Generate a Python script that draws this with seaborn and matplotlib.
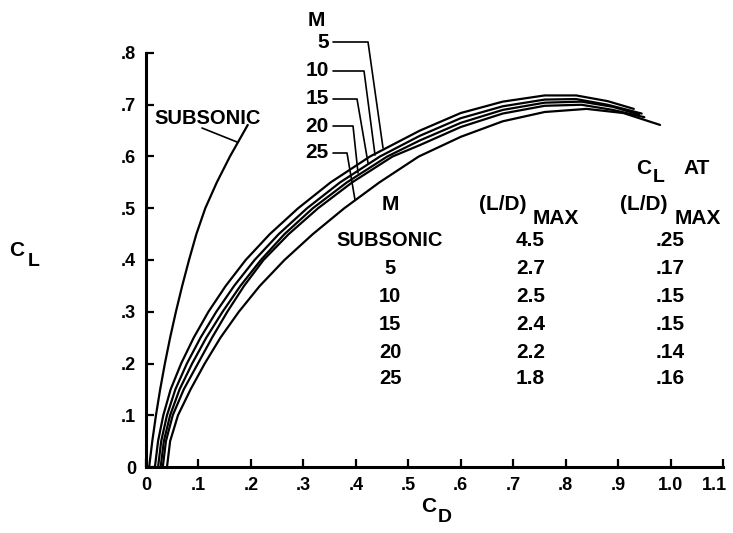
import matplotlib
matplotlib.use("Agg")
import matplotlib.pyplot as plt
from matplotlib.transforms import ScaledTranslation
import pandas as pd
import seaborn as sns

# ---------------- data ----------------
cd_sub = [0.006, 0.012, 0.019, 0.027, 0.036, 0.046, 0.057, 0.069, 0.082, 0.096, 0.113, 0.135, 0.160, 0.194]
cl_sub = [0.000, 0.050, 0.100, 0.150, 0.200, 0.250, 0.300, 0.350, 0.400, 0.450, 0.500, 0.550, 0.600, 0.661]

cd_m5 = [0.017, 0.023, 0.033, 0.047, 0.067, 0.091, 0.119, 0.152, 0.190, 0.236, 0.290, 0.352, 0.427, 0.522,
         0.600, 0.680, 0.760, 0.820, 0.880, 0.930]
cl_m5 = [0.000, 0.050, 0.100, 0.150, 0.200, 0.250, 0.300, 0.350, 0.400, 0.450, 0.500, 0.550, 0.600, 0.650,
         0.684, 0.706, 0.718, 0.718, 0.707, 0.692]

cd_m10 = [0.023, 0.029, 0.040, 0.056, 0.078, 0.104, 0.134, 0.168, 0.207, 0.253, 0.307, 0.370, 0.446, 0.522,
          0.600, 0.680, 0.760, 0.820, 0.880, 0.945]
cl_m10 = [0.000, 0.050, 0.100, 0.150, 0.200, 0.250, 0.300, 0.350, 0.400, 0.450, 0.500, 0.550, 0.600, 0.640,
          0.674, 0.697, 0.710, 0.711, 0.700, 0.683]

cd_m15 = [0.028, 0.034, 0.046, 0.064, 0.088, 0.115, 0.146, 0.180, 0.219, 0.264, 0.318, 0.383, 0.460, 0.522,
          0.600, 0.680, 0.760, 0.830, 0.890, 0.940]
cl_m15 = [0.000, 0.050, 0.100, 0.150, 0.200, 0.250, 0.300, 0.350, 0.400, 0.450, 0.500, 0.550, 0.600, 0.631,
          0.665, 0.690, 0.704, 0.706, 0.696, 0.681]

cd_m20 = [0.032, 0.038, 0.051, 0.072, 0.099, 0.126, 0.155, 0.187, 0.224, 0.272, 0.328, 0.393, 0.470, 0.522,
          0.600, 0.680, 0.760, 0.830, 0.890, 0.950]
cl_m20 = [0.000, 0.050, 0.100, 0.150, 0.200, 0.250, 0.300, 0.350, 0.400, 0.450, 0.500, 0.550, 0.600, 0.622,
          0.657, 0.683, 0.698, 0.700, 0.690, 0.676]

cd_m25 = [0.040, 0.046, 0.061, 0.085, 0.112, 0.142, 0.177, 0.217, 0.264, 0.318, 0.378, 0.445, 0.520,
          0.600, 0.680, 0.760, 0.840, 0.910, 0.980]
cl_m25 = [0.000, 0.050, 0.100, 0.150, 0.200, 0.250, 0.300, 0.350, 0.400, 0.450, 0.500, 0.550, 0.600,
          0.638, 0.668, 0.686, 0.692, 0.684, 0.661]

mach_labels = ["5", "10", "15", "20", "25"]

table_m = ["SUBSONIC", "5", "10", "15", "20", "25"]
table_ld = ["4.5", "2.7", "2.5", "2.4", "2.2", "1.8"]
table_cl = [".25", ".17", ".15", ".15", ".14", ".16"]

x_ticks = [0, 0.1, 0.2, 0.3, 0.4, 0.5, 0.6, 0.7, 0.8, 0.9, 1.0, 1.1]
x_tick_labels = ["0", ".1", ".2", ".3", ".4", ".5", ".6", ".7", ".8", ".9", "1.0", "1.1"]
y_ticks = [0, 0.1, 0.2, 0.3, 0.4, 0.5, 0.6, 0.7, 0.8]
y_tick_labels = ["0", ".1", ".2", ".3", ".4", ".5", ".6", ".7", ".8"]

# ---------------- style ----------------
sns.set_theme(style="ticks")
plt.rcParams['font.family'] = ['Liberation Sans', 'DejaVu Sans']
plt.rcParams['font.weight'] = 'bold'

W, H = 733, 533
fig = plt.figure(figsize=(W / 100, H / 100), dpi=100)
fig.patch.set_facecolor("white")
ax = fig.add_axes([146 / W, (H - 467) / H, 577 / W, 414 / H])
ax.set_facecolor("white")

curves = [("SUB", cd_sub, cl_sub), ("5", cd_m5, cl_m5), ("10", cd_m10, cl_m10),
          ("15", cd_m15, cl_m15), ("20", cd_m20, cl_m20), ("25", cd_m25, cl_m25)]
df = pd.concat([pd.DataFrame({"CD": cd, "CL": cl, "curve": n}) for n, cd, cl in curves],
               ignore_index=True)

sns.lineplot(data=df, x="CD", y="CL", units="curve", estimator=None, sort=False,
             color="black", lw=1.6, ax=ax, legend=False)

ax.set_xlim(0, 1.1)
ax.set_ylim(0, 0.8)
ax.set_xticks(x_ticks)
ax.set_xticklabels(x_tick_labels)
ax.set_yticks(y_ticks)
ax.set_yticklabels(y_tick_labels)
ax.set_xlabel("")
ax.set_ylabel("")
sns.despine(ax=ax)
for s in ("left", "bottom"):
    ax.spines[s].set_linewidth(2.2)
    ax.spines[s].set_color("black")
ax.tick_params(direction="in", length=6, width=1.6, labelsize=13, colors="black", pad=7)
for lab in ax.get_xticklabels() + ax.get_yticklabels():
    lab.set_fontweight("bold")
last = ax.get_xticklabels()[-1]
last.set_transform(last.get_transform() + ScaledTranslation(-6 / 72, 0, fig.dpi_scale_trans))


def d(px, py):
    """pixel position of the reference -> data coordinates (for annotations)"""
    return (px - 146) / 524.5, (467 - py) / 517.5


def ft(px, py, s, **kw):
    fig.text(px / W, 1 - py / H, s, fontweight="bold", color="black", **kw)


# axis labels
ft(17, 250, "C", fontsize=15, ha="center", va="center")
ft(34, 261, "L", fontsize=14, ha="center", va="center")
ft(429, 506, "C", fontsize=15, ha="center", va="center")
ft(445, 517, "D", fontsize=14, ha="center", va="center")

# subsonic label + leader
ft(208, 118, "SUBSONIC", fontsize=14.5, ha="center", va="center")
p0, p1 = d(202, 128), d(237, 142)
ax.plot([p0[0], p1[0]], [p0[1], p1[1]], color="black", lw=1.2, clip_on=False)

# Mach leaders
ft(316, 20, "M", fontsize=15, ha="center", va="center")
label_y = [42, 71, 99, 126, 153]
bend_x = [368, 364, 357, 353, 347]
end_pt = [(383, 148), (375, 155), (368, 163), (358, 173), (355, 200)]
for lab, ly, bx, (ex, ey) in zip(mach_labels, label_y, bend_x, end_pt):
    ft(329, ly, lab, fontsize=15, ha="right", va="center")
    a, b, c = d(333, ly), d(bx, ly), d(ex, ey)
    ax.plot([a[0], b[0], c[0]], [a[1], b[1], c[1]], color="black", lw=1.2, clip_on=False)

# table headers
ft(390, 205, "M", fontsize=15, ha="center", va="center")
ft(503, 205, "(L/D)", fontsize=15, ha="center", va="center")
ft(556, 218, "MAX", fontsize=15, ha="center", va="center")
ft(644, 168, "C", fontsize=15, ha="center", va="center")
ft(659, 177, "L", fontsize=14, ha="center", va="center")
ft(697, 168, "AT", fontsize=15, ha="center", va="center")
ft(644, 205, "(L/D)", fontsize=15, ha="center", va="center")
ft(698, 218, "MAX", fontsize=15, ha="center", va="center")

row_y = [240, 268, 296, 324, 352, 379]
for m, ld, cl, ry in zip(table_m, table_ld, table_cl, row_y):
    ft(390, ry, m, fontsize=14.5, ha="center", va="center")
    ft(545, ry, ld, fontsize=15, ha="right", va="center")
    ft(685, ry, cl, fontsize=15, ha="right", va="center")

fig.savefig("out.png", dpi=100, facecolor="white")
